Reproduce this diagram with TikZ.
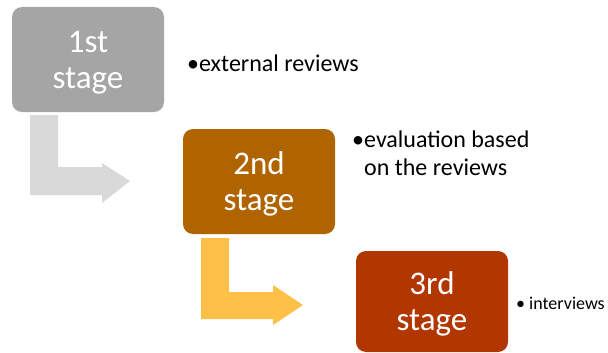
\documentclass[tikz,border=0pt]{standalone}
\usepackage{fontspec}
\setmainfont{Carlito}
\definecolor{stagegray}{RGB}{165,165,165}
\definecolor{stagebrown}{RGB}{176,100,0}
\definecolor{stagerust}{RGB}{178,54,0}
\definecolor{arrowgray}{RGB}{217,217,217}
\definecolor{arrowgold}{RGB}{255,192,72}
\tikzset{
  stagebox/.style={rounded corners=10pt, minimum width=152pt, minimum height=105pt,
    text=white, align=center, font=\fontsize{33}{36}\selectfont, inner sep=0pt,
    text height=65pt, text depth=7pt},
  note/.style={anchor=base west, align=left, inner sep=0pt, font=\fontsize{24}{28}\selectfont}
}
\begin{document}
\begin{tikzpicture}[x=1pt,y=-1pt]
\useasboundingbox (0,0) rectangle (608,353);
% stages
\node[stagebox, fill=stagegray] (s1) at (88,59.5) {1st\\stage};
\node[stagebox, fill=stagebrown] (s2) at (259,181.5) {2nd\\stage};
\node[stagebox, fill=stagerust, minimum height=101pt] (s3) at (432,301.5) {3rd\\stage};
% bent arrows
\fill[arrowgray] (30,115) -- (58,115) -- (58,167) -- (102,167) -- (102,163) -- (130,181)
  -- (102,203) -- (102,195) -- (30,195) -- cycle;
\fill[arrowgold] (201,238) -- (229,238) -- (229,292) -- (273,292) -- (273,285) -- (303,305)
  -- (273,325) -- (273,319) -- (201,319) -- cycle;
% notes
\node[note] (n1) at (187,72) {•external reviews};
\node[note] (n2) at (352,175) {•evaluation based\\\phantom{•}on the reviews};
\node[note, font=\fontsize{18}{21}\selectfont] (n3) at (516,309) {• interviews};
\end{tikzpicture}
\end{document}
